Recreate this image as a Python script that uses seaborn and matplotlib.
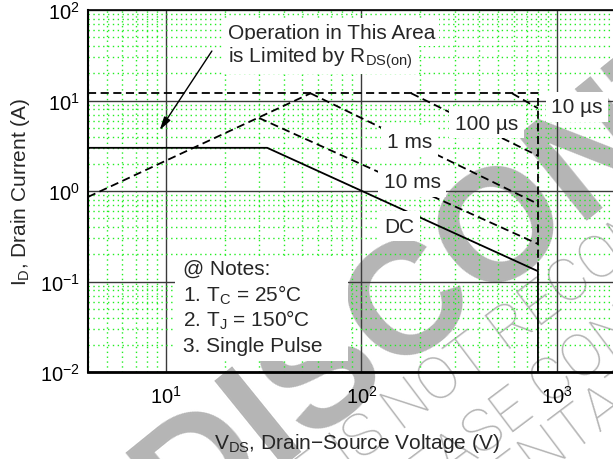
import matplotlib
matplotlib.use("Agg")
import matplotlib.pyplot as plt
import seaborn as sns
from matplotlib.patches import Rectangle
from matplotlib.ticker import LogLocator, NullFormatter

# safe operating area, drain-source voltage (V) vs drain current (A)
dc_v = [4, 33, 800, 800]
dc_i = [3, 3, 0.13, 0.01]
rds_v = [4, 55]
rds_i = [0.86, 12]
peak_v = [4, 800, 800]
peak_i = [12, 12, 0.13]
us10_v = [590, 800]
us10_i = [12, 8.2]
us100_v = [180, 800]
us100_i = [12, 2.45]
ms1_v = [55, 800]
ms1_i = [12, 0.72]
ms10_v = [30, 800]
ms10_i = [6.4, 0.26]

notes = ["@ Notes:", "1. $T_C$ = 25°C", "2. $T_J$ = 150°C", "3. Single Pulse"]

sns.set_style("white")
plt.rcParams["font.family"] = ["Liberation Sans", "DejaVu Sans"]
plt.rcParams["mathtext.fontset"] = "custom"
plt.rcParams["mathtext.rm"] = "Liberation Sans"
plt.rcParams["mathtext.it"] = "Liberation Sans"
plt.rcParams["mathtext.default"] = "regular"

fig = plt.figure(figsize=(6.13, 4.6), dpi=100, facecolor="white")
ax = fig.add_axes([88 / 613, 87 / 460, 525 / 613, 362 / 460])
ax.patch.set_facecolor("none")
ax.set_xscale("log")
ax.set_yscale("log")
ax.set_xlim(4, 1936)
ax.set_ylim(0.01, 100)

# watermark behind everything
wm = dict(color="#b5b5b5", rotation_mode="anchor", ha="left", va="baseline", zorder=-1)
fig.text(0.300, -0.170, "DISCONTINUED", fontsize=115, fontweight="bold", rotation=39, **wm)
thin = dict(family="Roboto", fontweight=100, fontsize=43, rotation=37, **wm)
fig.text(0.2936, -0.302, "DEVICE IS NOT RECOMMENDED FOR NEW DESIGN", **thin)
fig.text(0.607, -0.174, "PLEASE CONTACT YOUR ON SEMICONDUCTOR", **thin)
fig.text(0.5497, -0.372, "REPRESENTATIVE FOR INFORMATION", **thin)

dash = (0, (4.5, 2.5))
curves = [
    (dc_v, dc_i, "-"),
    (rds_v, rds_i, dash),
    (peak_v, peak_i, dash),
    (us10_v, us10_i, dash),
    (us100_v, us100_i, dash),
    (ms1_v, ms1_i, dash),
    (ms10_v, ms10_i, dash),
]
for v, i, ls in curves:
    sns.lineplot(x=v, y=i, ax=ax, color="black", lw=1.3, linestyle=ls,
                 estimator=None, sort=False, legend=False, zorder=3)

ax.xaxis.set_major_locator(LogLocator(base=10, numticks=20))
ax.yaxis.set_major_locator(LogLocator(base=10, numticks=20))
for axis in (ax.xaxis, ax.yaxis):
    axis.set_minor_locator(LogLocator(base=10, subs=range(2, 10), numticks=100))
    axis.set_minor_formatter(NullFormatter())

ax.grid(which="major", color="#3a3a3a", lw=1.0, ls="-")
ax.grid(which="minor", color="#22ee22", lw=1.0, ls=(0, (1, 2.5)))
ax.set_axisbelow(True)

ax.tick_params(which="both", direction="in", colors="black")
ax.tick_params(which="major", length=6, width=1, labelsize=14.5)
ax.tick_params(which="minor", length=5, width=1)
ax.tick_params(axis="x", which="major", pad=9)
ax.tick_params(axis="y", which="major", pad=6)

ax.spines["right"].set_visible(False)
ax.spines["bottom"].set_linewidth(2.0)
ax.spines["left"].set_linewidth(1.5)
ax.spines["top"].set_linewidth(1.2)
for s in ax.spines.values():
    s.set_color("black")

ax.set_xlabel("$V_{DS}$, Drain\u2212Source Voltage (V)", fontsize=15)
ax.xaxis.set_label_coords(0.512, -0.163)
ax.set_ylabel("$I_D$, Drain Current (A)", fontsize=15, va="center")
ax.yaxis.set_label_coords(-0.1295, 0.5)

box = dict(facecolor="white", edgecolor="none", pad=4)
lab = dict(fontsize=15, ha="center", va="center", bbox=box, zorder=5)
ax.text(1266, 8.5, "10 µs", **lab)
ax.text(436, 5.6, "100 µs", **lab)
ax.text(176, 3.48, "1 ms", **lab)
ax.text(182, 1.26, "10 ms", **lab)
ax.text(156, 0.41, "DC", **lab)

op = dict(fontsize=15, ha="left", va="center", bbox=dict(facecolor="white", edgecolor="none", pad=3), zorder=5)
ax.text(20.7, 57.1, "Operation in This Area", **op)
ax.text(20.7, 30.3, "is Limited by $R_{DS(on)}$", **op)
ax.annotate("", xy=(9.3, 4.7), xytext=(17.2, 35.2),
            arrowprops=dict(arrowstyle="-|>,head_length=0.8,head_width=0.22",
                            color="black", lw=1.0, shrinkA=0, shrinkB=0), zorder=5)

ax.add_patch(Rectangle((11.1, 0.0132), 85 - 11.1, 0.187 - 0.0132,
                       facecolor="white", edgecolor="none", zorder=4))
for y, line in zip([0.141, 0.0728, 0.0385, 0.0194], notes):
    ax.text(12.2, y, line, fontsize=15, ha="left", va="center", zorder=5)

fig.savefig("out.png", dpi=100)
